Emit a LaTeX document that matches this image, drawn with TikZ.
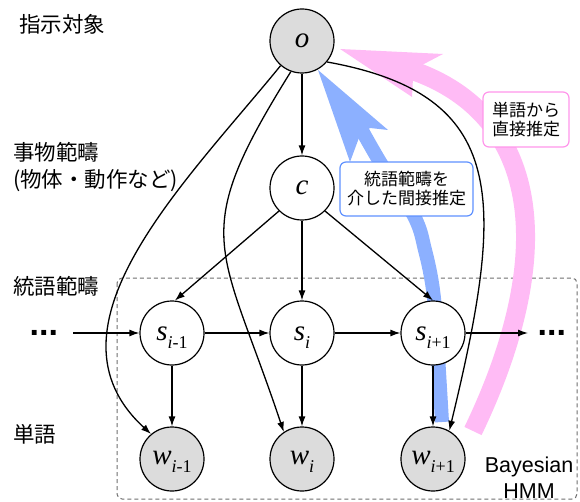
\documentclass[tikz,border=0pt]{standalone}
\usepackage{fontspec}
\newfontfamily\jp{Noto Sans CJK JP}
\newfontfamily\lsans{Liberation Sans}
\newfontfamily\lserif{Liberation Serif}
\usetikzlibrary{arrows.meta}
\definecolor{pinkarr}{RGB}{255,187,245}
\definecolor{bluearr}{RGB}{140,176,255}
\definecolor{bluebord}{RGB}{95,145,255}
\definecolor{pinkbord}{RGB}{255,150,235}
\definecolor{obsgray}{RGB}{220,220,220}
\definecolor{dashgray}{RGB}{110,110,110}
\newcommand\nlab[2]{{\itshape #1}\raisebox{-8pt}{\fontsize{18}{18}\selectfont #2}}
\tikzset{
  stnode/.style={circle, draw, line width=1.2pt, minimum size=64pt, inner sep=0pt, fill=white, font=\lserif\fontsize{29}{32}\selectfont, text height=20pt, text depth=6pt},
  obs/.style={stnode, fill=obsgray, text height=18pt, text depth=8pt},
  edge/.style={line width=1.3pt, -{Latex[length=10pt,width=7pt]}},
  dashedbox/.style={draw=dashgray, line width=1pt, dash pattern=on 4pt off 3pt, rounded corners=5pt},
  leftlabel/.style={anchor=west, inner sep=0pt, font=\jp\fontsize{21.5}{27}\selectfont, align=left},
  notebox/.style={draw, line width=1.2pt, rounded corners=6pt, fill=white, inner sep=2pt, align=center, font=\jp\fontsize{17}{19}\selectfont},
  dotstext/.style={anchor=base west, inner sep=0pt, font=\lsans\bfseries\fontsize{34}{34}\selectfont}
}
\begin{document}
\begin{tikzpicture}[x=1pt,y=-1pt]
\useasboundingbox (0,0) rectangle (580,502);
% HMM box
\draw[dashedbox] (117,278) rectangle (577,499);
% pink thick arrow
\draw[pinkarr, line width=19pt] (473,431) .. controls (560,250) and (540,110) .. (405,68);
\fill[pinkarr] (340,49) -- (443,54) -- (422,65) -- (413,78) -- (412,97) -- cycle;
% blue thick arrow
\draw[bluearr, line width=14pt] plot[smooth, tension=0.6] coordinates {(442,422) (437,340) (433,290) (425,250) (414,216) (380,162) (355,118)};
\fill[bluearr] (318,70) -- (388,130) -- (370,128) -- (360,135) -- (350,162) -- cycle;
% nodes
\node[obs, text height=20pt, text depth=6pt] (o) at (302,41) {\itshape o};
\node[stnode] (c) at (302,188) {\itshape c};
\node[stnode] (s1) at (172,333) {\nlab{s}{{\itshape i}-1}};
\node[stnode] (s2) at (302,333) {\nlab{s}{\itshape i}};
\node[stnode] (s3) at (433,333) {\nlab{s}{{\itshape i}+1}};
\node[obs] (w1) at (172,459) {\nlab{w}{{\itshape i}-1}};
\node[obs] (w2) at (302,459) {\nlab{w}{\itshape i}};
\node[obs] (w3) at (433,459) {\nlab{w}{{\itshape i}+1}};
\node[dotstext] (ldots) at (29.5,335.5) {...};
\node[dotstext] (rdots) at (537.5,335.5) {...};
\coordinate (lstart) at (73,333);
\coordinate (rend) at (528,333);
% labels
\node[leftlabel] (lab1) at (19,24) {指示対象};
\node[leftlabel] (lab2) at (13,167.5) {事物範疇\\(物体・動作など)};
\node[leftlabel] (lab3) at (13,286) {統語範疇};
\node[leftlabel] (lab4) at (13,434) {単語};
\node[inner sep=0pt, align=center, font=\lsans\fontsize{21.5}{26}\selectfont] (bhmm) at (529,477.5) {Bayesian\\HMM};
\node[notebox, draw=bluebord, minimum width=133pt, minimum height=54pt] (nb1) at (406.5,189) {統語範疇を\\介した間接推定};
\node[notebox, draw=pinkbord, minimum width=86pt, minimum height=55pt] (nb2) at (526,119.5) {単語から\\直接推定};
% edges
\draw[edge] (o) -- (c);
\draw[edge] (c.-135) -- (s1.85);
\draw[edge] (c) -- (s2);
\draw[edge] (c.-45) -- (s3.north);
\draw[edge] (lstart) -- (s1);
\draw[edge] (s1) -- (s2);
\draw[edge] (s2) -- (s3);
\draw[edge] (s3) -- (rend);
\draw[edge] (s1) -- (w1);
\draw[edge] (s2) -- (w2);
\draw[edge] (s3) -- (w3);
\draw[edge] (o.-131) .. controls (185,183) and (35,328) .. (w1.130);
\draw[edge] (o.-110) .. controls (187,238) and (220,241.5) .. (w2.124);
\draw[edge] (o.-40) .. controls (510,95) and (505,200) .. (w3.60);
\end{tikzpicture}
\end{document}
